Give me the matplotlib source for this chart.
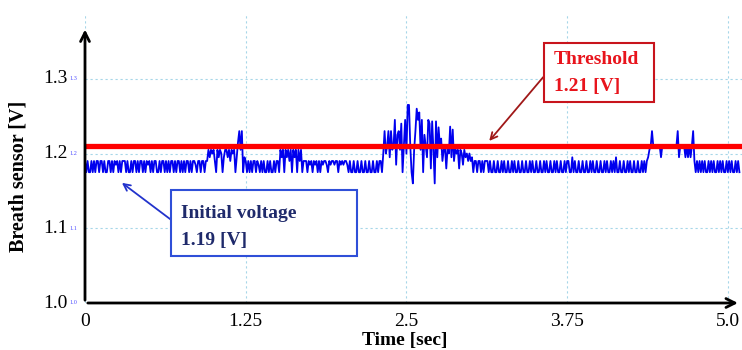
import numpy as np
import matplotlib.pyplot as plt
from matplotlib.patches import Rectangle

plt.rcParams['font.family'] = ['Liberation Serif', 'DejaVu Serif']

# breath sensor output, one sample every 10 ms, in mV
sample_dt = 0.01
breath_mv = [
    1190, 1175, 1190, 1175, 1175, 1190, 1175, 1190, 1175, 1190,  # 0.0
    1190, 1175, 1190, 1190, 1175, 1190, 1175, 1175, 1190, 1190,
    1175, 1190, 1175, 1190, 1185, 1190, 1175, 1190, 1175, 1190,
    1190, 1190, 1175, 1190, 1175, 1175, 1190, 1175, 1190, 1190,
    1175, 1190, 1175, 1190, 1190, 1175, 1190, 1175, 1190, 1185,
    1190, 1175, 1190, 1175, 1190, 1190, 1175, 1175, 1190, 1175,  # 0.5
    1190, 1190, 1175, 1190, 1175, 1190, 1175, 1190, 1190, 1175,
    1190, 1175, 1190, 1190, 1175, 1190, 1175, 1190, 1175, 1190,
    1190, 1175, 1190, 1175, 1190, 1190, 1185, 1175, 1190, 1190,
    1175, 1190, 1190, 1175, 1190, 1190, 1205, 1195, 1205, 1200,
    1205, 1190, 1175, 1205, 1195, 1205, 1200, 1175, 1195, 1205,  # 1.0
    1205, 1195, 1205, 1190, 1205, 1200, 1205, 1175, 1195, 1215,
    1230, 1205, 1230, 1175, 1195, 1190, 1175, 1190, 1175, 1190,
    1175, 1190, 1190, 1175, 1190, 1185, 1175, 1190, 1175, 1190,
    1175, 1175, 1190, 1175, 1190, 1175, 1175, 1190, 1175, 1190,
    1190, 1175, 1205, 1195, 1205, 1175, 1205, 1195, 1205, 1190,  # 1.5
    1205, 1175, 1205, 1195, 1205, 1175, 1205, 1190, 1205, 1175,
    1190, 1190, 1190, 1175, 1190, 1185, 1190, 1175, 1190, 1185,
    1190, 1175, 1190, 1175, 1190, 1185, 1190, 1190, 1185, 1175,
    1190, 1185, 1190, 1190, 1185, 1190, 1190, 1175, 1190, 1185,
    1190, 1185, 1190, 1190, 1185, 1175, 1190, 1175, 1175, 1190,  # 2.0
    1175, 1175, 1190, 1175, 1175, 1190, 1175, 1175, 1190, 1175,
    1175, 1190, 1175, 1175, 1190, 1175, 1175, 1190, 1175, 1190,
    1190, 1175, 1200, 1230, 1200, 1210, 1230, 1195, 1230, 1205,
    1210, 1245, 1185, 1225, 1230, 1205, 1240, 1175, 1210, 1245,
    1200, 1265, 1265, 1210, 1175, 1160, 1205, 1230, 1260, 1245,  # 2.5
    1255, 1205, 1245, 1175, 1225, 1210, 1195, 1245, 1240, 1180,
    1243, 1205, 1160, 1243, 1195, 1235, 1210, 1220, 1190, 1205,
    1208, 1180, 1207, 1200, 1236, 1195, 1232, 1190, 1207, 1200,
    1205, 1180, 1205, 1200, 1185, 1205, 1195, 1200, 1190, 1200,
    1190, 1195, 1175, 1190, 1190, 1175, 1190, 1190, 1175, 1190,  # 3.0
    1175, 1190, 1190, 1190, 1175, 1190, 1175, 1175, 1190, 1175,
    1175, 1190, 1175, 1175, 1190, 1175, 1190, 1175, 1175, 1190,
    1175, 1175, 1190, 1175, 1190, 1175, 1175, 1190, 1175, 1175,
    1190, 1175, 1175, 1190, 1175, 1175, 1190, 1175, 1190, 1175,
    1175, 1190, 1175, 1175, 1190, 1175, 1175, 1190, 1175, 1190,  # 3.5
    1175, 1175, 1190, 1175, 1175, 1190, 1175, 1190, 1175, 1175,
    1190, 1175, 1175, 1190, 1175, 1190, 1190, 1175, 1175, 1195,
    1175, 1190, 1175, 1175, 1190, 1175, 1175, 1190, 1175, 1175,
    1190, 1175, 1175, 1190, 1175, 1190, 1175, 1175, 1190, 1175,
    1175, 1190, 1175, 1175, 1190, 1175, 1190, 1175, 1175, 1190,  # 4.0
    1175, 1190, 1175, 1195, 1175, 1175, 1190, 1175, 1175, 1190,
    1175, 1175, 1190, 1175, 1190, 1175, 1175, 1190, 1175, 1175,
    1190, 1175, 1175, 1190, 1175, 1190, 1175, 1190, 1195, 1205,
    1210, 1230, 1210, 1210, 1210, 1210, 1210, 1210, 1195, 1210,
    1210, 1210, 1210, 1210, 1210, 1210, 1210, 1210, 1210, 1210,  # 4.5
    1210, 1230, 1195, 1210, 1210, 1210, 1210, 1195, 1210, 1195,
    1210, 1195, 1210, 1230, 1190, 1175, 1190, 1175, 1190, 1175,
    1190, 1175, 1190, 1175, 1175, 1190, 1175, 1190, 1175, 1190,
    1175, 1175, 1190, 1175, 1190, 1175, 1190, 1175, 1175, 1190,
    1175, 1190, 1175, 1190, 1175, 1175, 1190, 1175, 1190, 1175,  # 5.0
]
threshold_v = 1.21

x_ticks = [0, 1.25, 2.5, 3.75, 5.0]
x_tick_labels = ['0', '1.25', '2.5', '3.75', '5.0']
y_ticks = [1.0, 1.1, 1.2, 1.3]
y_tick_labels = ['1.0', '1.1', '1.2', '1.3']

W, H = 742, 350


def fx(px):
    return px / W


def fy(py):
    return 1 - py / H


fig = plt.figure(figsize=(W / 100, H / 100), dpi=100)
ax = fig.add_axes([fx(85), fy(303), 657 / W, 290 / H])
ax.set_xlim(0, 5.11)
ax.set_ylim(1.0, 1.388)
for s in ax.spines.values():
    s.set_visible(False)
ax.set_xticks([])
ax.set_yticks([])

grid_kw = dict(color='#a6d6e8', lw=0.8, ls=(0, (2, 2.5)), zorder=0)
for x in x_ticks:
    ax.axvline(x, **grid_kw)
for y in y_ticks[1:]:
    ax.axhline(y, **grid_kw)

t = np.arange(len(breath_mv)) * sample_dt
ax.plot(t, np.array(breath_mv) / 1000.0, color='#0000ee', lw=1.3, zorder=2)
ax.axhline(threshold_v, color='#ff0000', lw=3.8, zorder=3)

# axes drawn as arrows
arrow_kw = dict(arrowstyle='->', lw=2.0, color='black', mutation_scale=16)
ax.annotate('', xy=(0, 1.3696), xytext=(0, 1.0), arrowprops=arrow_kw,
            annotation_clip=False, zorder=5)
ax.annotate('', xy=(5.10, 1.0), xytext=(0, 1.0), arrowprops=arrow_kw,
            annotation_clip=False, zorder=5)

ytr = ax.get_yaxis_transform()
for y, lab in zip(y_ticks, y_tick_labels):
    ax.text(-17 / 657, y, lab, transform=ytr, ha='right', va='center',
            fontsize=14)
    ax.text(-16 / 657, y, lab, transform=ytr, ha='left', va='center',
            fontsize=4.5, color='#5050ff')
xtr = ax.get_xaxis_transform()
for x, lab in zip(x_ticks, x_tick_labels):
    ax.text(x, -19 / 290, lab, transform=xtr, ha='center', va='center',
            fontsize=14, clip_on=False)

fig.text(fx(405), fy(341), 'Time [sec]', ha='center', va='center',
         fontsize=14, fontweight='bold')
fig.text(fx(19), fy(176), 'Breath sensor [V]', ha='center', va='center',
         fontsize=14.5, fontweight='bold', rotation=90)

# threshold call-out
fig.add_artist(Rectangle((fx(544), fy(102)), 110 / W, 59 / H,
                         transform=fig.transFigure, facecolor='white',
                         edgecolor='#c8141c', lw=1.5, zorder=3))
fig.text(fx(554), fy(60), 'Threshold', ha='left', va='center', fontsize=14,
         fontweight='bold', color='#e8141c', zorder=4)
fig.text(fx(554), fy(87), '1.21 [V]', ha='left', va='center', fontsize=14,
         fontweight='bold', color='#e8141c', zorder=4)
ax.annotate('', xy=(3.13, 1.214), xytext=(545, H - 75),
            textcoords='figure pixels',
            arrowprops=dict(arrowstyle='->', lw=1.3, color='#a01818',
                            mutation_scale=12),
            annotation_clip=False, zorder=6)

# initial voltage call-out
fig.add_artist(Rectangle((fx(171), fy(256)), 186 / W, 66 / H,
                         transform=fig.transFigure, facecolor='white',
                         edgecolor='#2f4fd8', lw=1.5, zorder=3))
fig.text(fx(181), fy(213), 'Initial voltage', ha='left', va='center',
         fontsize=14, fontweight='bold', color='#1f2a6b', zorder=4)
fig.text(fx(181), fy(240), '1.19 [V]', ha='left', va='center',
         fontsize=14, fontweight='bold', color='#1f2a6b', zorder=4)
ax.annotate('', xy=(0.27, 1.163), xytext=(174, H - 222),
            textcoords='figure pixels',
            arrowprops=dict(arrowstyle='->', lw=1.3, color='#2233cc',
                            mutation_scale=12),
            annotation_clip=False, zorder=6)

fig.savefig('out.png', dpi=100)
